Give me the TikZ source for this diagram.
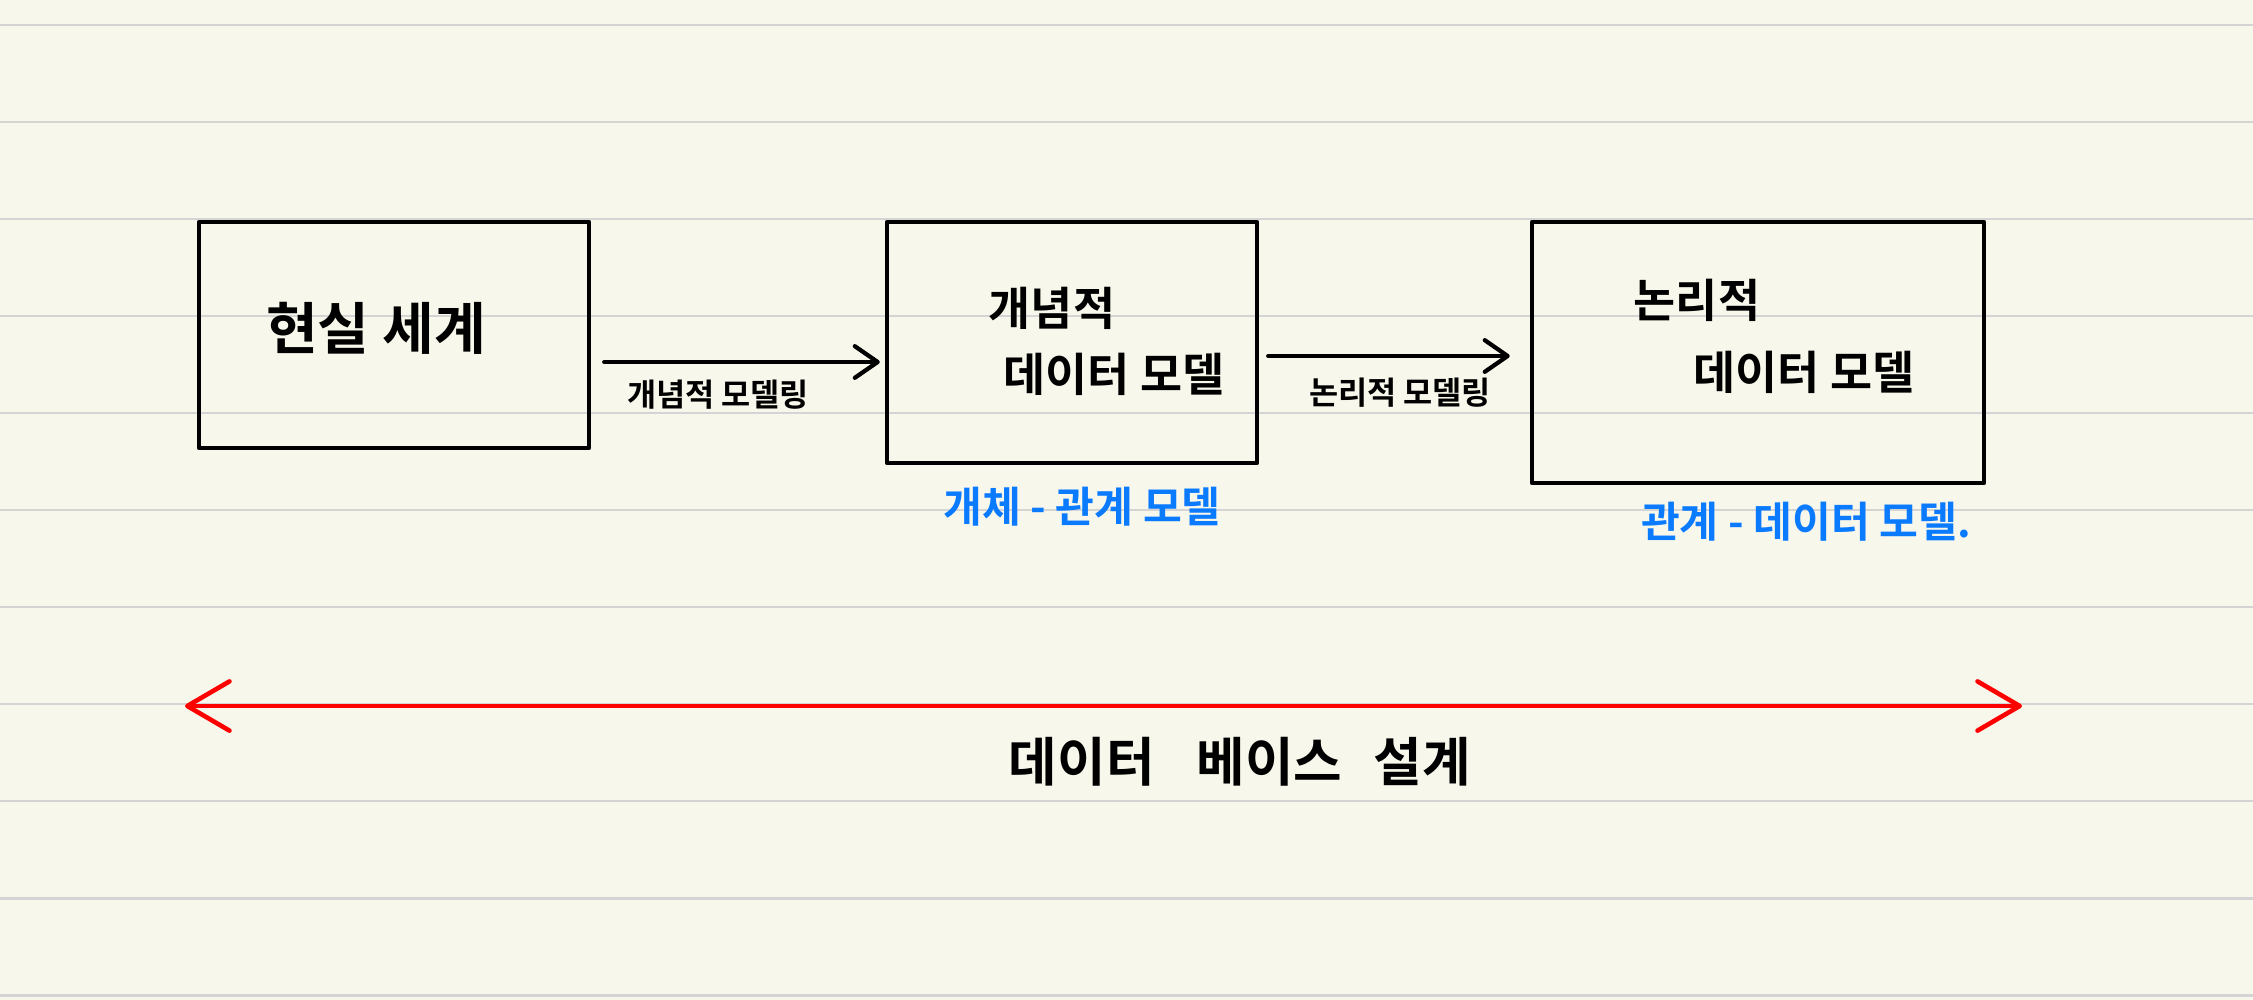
\documentclass[tikz,border=0pt]{standalone}
\usepackage{fontspec}
\newfontfamily\kr{Noto Sans CJK KR}[BoldFont={Noto Sans CJK KR Bold}]
\usetikzlibrary{arrows.meta}
\definecolor{paper}{HTML}{F8F7EB}
\definecolor{rulegray}{HTML}{D4D4D4}
\definecolor{penblue}{HTML}{0A7AFF}
\definecolor{penred}{HTML}{FF0000}
\tikzset{
  rulestyle/.style={draw=rulegray, line width=0.85pt},
  boxstyle/.style={draw=black, line width=1.2pt, rectangle, inner sep=0pt, line join=round},
  blackarrow/.style={draw=black, line width=1.2pt, line cap=round, -{Straight Barb[length=6.5pt,width=9pt,line join=round,line cap=round]}},
  redarrow/.style={draw=penred, line width=1.3pt, line cap=round, {Straight Barb[length=12pt,width=14pt,line join=round,line cap=round]}-{Straight Barb[length=12pt,width=14pt,line join=round,line cap=round]}},
  bigtext/.style={font=\kr\bfseries\fontsize{16}{19}\selectfont, inner sep=0pt},
  midtext/.style={font=\kr\bfseries\fontsize{13}{16}\selectfont, inner sep=0pt},
  smalltext/.style={font=\kr\bfseries\fontsize{9}{11}\selectfont, inner sep=0pt},
  bluetext/.style={font=\kr\bfseries\fontsize{12}{14}\selectfont, text=penblue, inner sep=0pt},
  bottomtext/.style={font=\kr\bfseries\fontsize{15}{18}\selectfont, inner sep=0pt}
}
\begin{document}
\begin{tikzpicture}[x=0.01cm,y=-0.01cm]
\fill[paper] (0,0) rectangle (2253,1000);
\useasboundingbox (0,0) rectangle (2253,1000);
\foreach \k in {0,...,10} \draw[rulestyle] (0,{25+97*\k}) -- (2253,{25+97*\k});

% boxes
\node[boxstyle, minimum width=3.9cm, minimum height=2.26cm] (b1) at (394,335) {};
\node[boxstyle, minimum width=3.7cm, minimum height=2.41cm] (b2) at (1072,342.5) {};
\node[boxstyle, minimum width=4.52cm, minimum height=2.61cm] (b3) at (1758,352.5) {};

% box texts
\node[bigtext] (t1) at (376,328) {현실 세계};
\node[midtext] (t2a) at (1052,308) {개념적};
\node[midtext] (t2b) at (1114,374) {데이터 모델};
\node[midtext] (t3a) at (1697,300) {논리적};
\node[midtext] (t3b) at (1804,372) {데이터 모델};

% connectors
\coordinate (y1) at (0,362);
\coordinate (y2) at (0,356);
\draw[blackarrow, shorten <=0.13cm, shorten >=0.05cm] (b1.east |- y1) -- (b2.west |- y1);
\draw[blackarrow, shorten <=0.09cm, shorten >=0.2cm] (b2.east |- y2) -- (b3.west |- y2);
\node[smalltext] (l1) at (718,395) {개념적 모델링};
\node[smalltext] (l2) at (1400,393) {논리적 모델링};

% blue notes
\node[bluetext] (n1) at (1082,507) {개체 - 관계 모델};
\node[bluetext] (n2) at (1806,522) {관계 - 데이터 모델.};

% red range arrow
\coordinate (rl) at (185,706);
\coordinate (rr) at (2022,706);
\draw[redarrow] (rl) -- (rr);
\node[bottomtext] (bt) at (1240,762) {데이터\hspace{0.8em}베이스\hspace{0.6em}설계};
\end{tikzpicture}
\end{document}
